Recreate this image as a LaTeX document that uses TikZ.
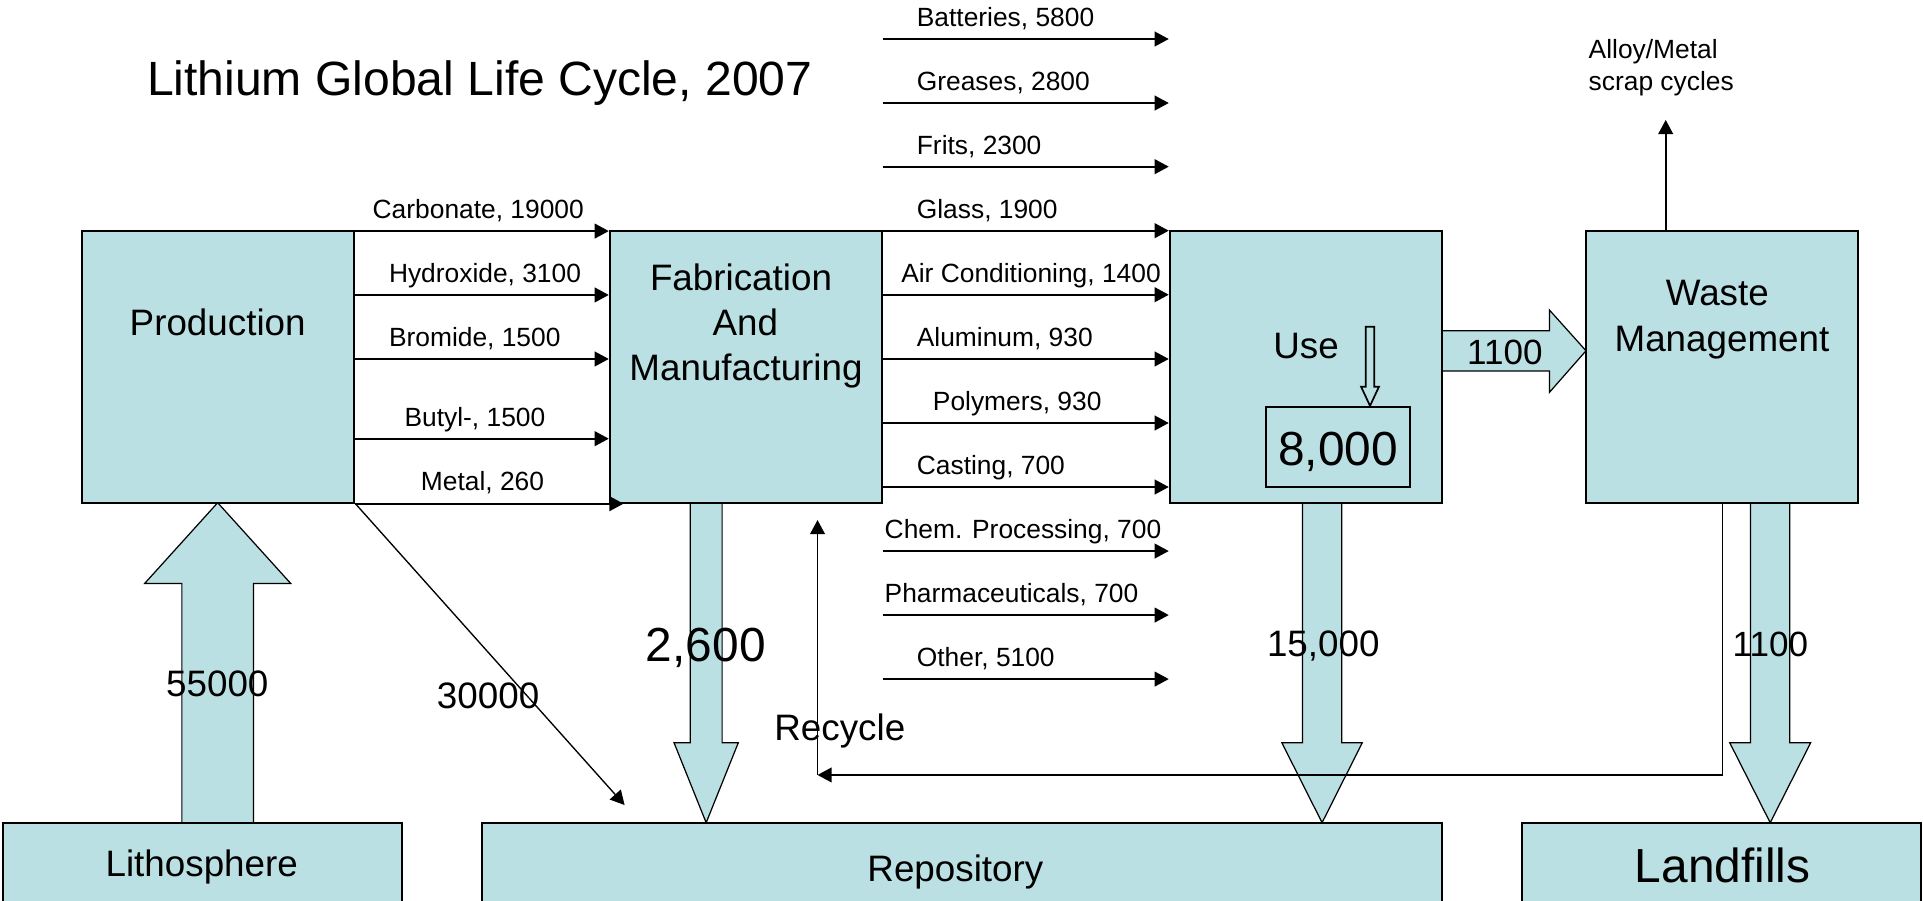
\documentclass[tikz,border=0pt]{standalone}
\usepackage{fontspec}
\setmainfont{Liberation Sans}
\usetikzlibrary{arrows.meta}
\definecolor{cellfill}{RGB}{186,224,227}
% vertical block arrow: centre x, half shaft, half head, shaft end, head base, tip
\newcommand\downblock[6]{%
  \filldraw[blk] ({#1-#2},#4) -- ({#1+#2},#4) -- ({#1+#2},#5) -- ({#1+#3},#5)
    -- (#1,#6) -- ({#1-#3},#5) -- ({#1-#2},#5) -- cycle;}
\begin{document}
\begin{tikzpicture}[x=0.5pt,y=-0.5pt,
  box/.style={draw, line width=0.8pt, fill=cellfill, inner sep=0pt,
    minimum width=111pt, minimum height=110.75pt},
  blk/.style={draw, line width=0.5pt, fill=cellfill, line join=miter},
  flow/.style={draw, line width=0.7pt, -{Triangle[length=5.75pt,width=6pt]}},
  lbl/.style={inner sep=0pt, anchor=base west, font=\fontsize{10.75pt}{12.9pt}\selectfont},
  mid/.style={inner sep=0pt, anchor=base, font=\fontsize{15pt}{18pt}\selectfont},
  big/.style={inner sep=0pt, anchor=base, font=\fontsize{19.5pt}{23pt}\selectfont},
  num/.style={inner sep=0pt, anchor=base, font=\fontsize{14.3pt}{17pt}\selectfont}]
\useasboundingbox (0,0) rectangle (1568,734);
\clip (0,0) rectangle (1568,734);

% block arrows (flows between stages)
\downblock{177.5}{29.2}{59.5}{670.8}{475.7}{409.9}
\downblock{575.8}{13}{26.2}{409.9}{605.6}{670.8}
\downblock{1078}{16}{32.8}{409.9}{605.6}{670.8}
\downblock{1443.4}{16}{33}{409.9}{605.6}{670.8}
\filldraw[blk] (1175.8,269.6) -- (1263.4,269.6) -- (1263.4,252.8) -- (1293.2,286)
  -- (1263.4,319.9) -- (1263.4,302.5) -- (1175.8,302.5) -- cycle;

% stage boxes
\node[box] (prod)  at (178,299.15) {};
\node[box] (fab)   at (608.2,299.15) {};
\node[box] (use)   at (1064.8,299.15) {};
\node[box] (waste) at (1404.35,299.15) {};
\node[box, minimum width=162.75pt, minimum height=44.6pt] (lith) at (165.25,715.4) {};
\node[box, minimum width=391.3pt, minimum height=44.6pt] (repo) at (784.7,715.4) {};
\node[box, minimum width=162.75pt, minimum height=44.6pt] (land) at (1403.85,715.4) {};
\node[box, line width=0.7pt, minimum width=58.7pt, minimum height=32.6pt] (stock) at (1090.9,364.2) {};

% stock arrow inside the use box
\filldraw[blk, line width=0.7pt] (1113.6,266.4) -- (1120.6,266.4) -- (1120.6,315.3) -- (1124.4,315.3)
  -- (stock.north -| 1117.1,0) -- (1109.8,315.3) -- (1113.6,315.3) -- cycle;

% production products
\foreach \yy/\xx/\lab [count=\k] in {
  188.4/304.5/{Carbonate, 19000},
  240.5/317.8/{Hydroxide, 3100},
  292.7/317.8/{Bromide, 1500},
  357.7/330.5/{Butyl-, 1500}}{
  \draw[flow] (prod.east |- 0,\yy) -- (fab.west |- 0,\yy);
  \node[lbl] (pl\k) at (\xx-1,\yy-10) {\lab};
}
\draw[flow] (prod.south east) -- ([xshift=6pt]fab.south west);
\node[lbl] (pl5) at (342.8,399.9) {Metal, 260};

% end uses
\foreach \yy/\xx/\lab [count=\k] in {
  31.8/748.2/{Batteries, 5800},
  84/748.2/{Greases, 2800},
  135.9/748.2/{Frits, 2300},
  188.1/748.2/{Glass, 1900},
  240.3/735.5/{Air Conditioning, 1400},
  292.7/748.2/{Aluminum, 930},
  344.9/761.3/{Polymers, 930},
  397.1/748.2/{Casting, 700},
  449.3/722/{Chem. Processing, 700},
  501.5/722/{Pharmaceuticals, 700},
  553.7/748.2/{Other, 5100}}{
  \draw[flow] (fab.east |- 0,\yy) -- (use.west |- 0,\yy);
  \node[lbl] (ul\k) at (\xx-1,\yy-10) {\lab};
}

% dissipation, scrap and recycling
\coordinate (diss) at (509.3,656.4);
\draw[flow, line width=0.55pt] (prod.south east) -- (diss);
\coordinate (scrap) at (1358.2,97.8);
\draw[flow] (waste.north -| scrap) -- (scrap);
\coordinate (rc) at (666.6,631.9);
\coordinate (rtop) at (666.6,424);
\draw[flow] (waste.south -| 1404.4,0) |- (rc);
\draw[flow] (rc) -- (rtop);

% texts
\node[big, anchor=base west, font=\fontsize{19.6pt}{23pt}\selectfont] (title) at (119.5,77.5) {Lithium Global Life Cycle, 2007};
\node[mid] (tprod) at (177.5,273.2) {Production};
\node[mid] (tfab1) at (604.2,237) {Fabrication};
\node[mid] (tfab2) at (607.8,273.2) {And};
\node[mid] (tfab3) at (608.3,309.9) {Manufacturing};
\node[mid] (tuse) at (1065,292.2) {Use};
\node[mid] (twaste1) at (1400.3,249.5) {Waste};
\node[mid] (twaste2) at (1404.1,286.8) {Management};
\node[big] (tstock) at (1091,379.2) {8,000};
\node[num] (tout) at (1227,297.6) {1100};
\node[lbl] (talloy1) at (1295,48.1) {Alloy/Metal};
\node[lbl] (talloy2) at (1295,73.9) {scrap cycles};
\node[mid] (tmine) at (177.2,568.1) {55000};
\node[mid] (tdiss) at (398,577.6) {30000};
\node[big] (tfabloss) at (575.5,539.5) {2,600};
\node[mid] (trec) at (684.8,603.4) {Recycle};
\node[mid] (tuseloss) at (1079,535.4) {15,000};
\node[num] (tland) at (1443.6,535.4) {1100};
\node[mid] (tlith) at (164.5,715) {Lithosphere};
\node[mid] (trepo) at (779,719) {Repository};
\node[big] (tlandf) at (1404.6,719.5) {Landfills};
\end{tikzpicture}
\end{document}
